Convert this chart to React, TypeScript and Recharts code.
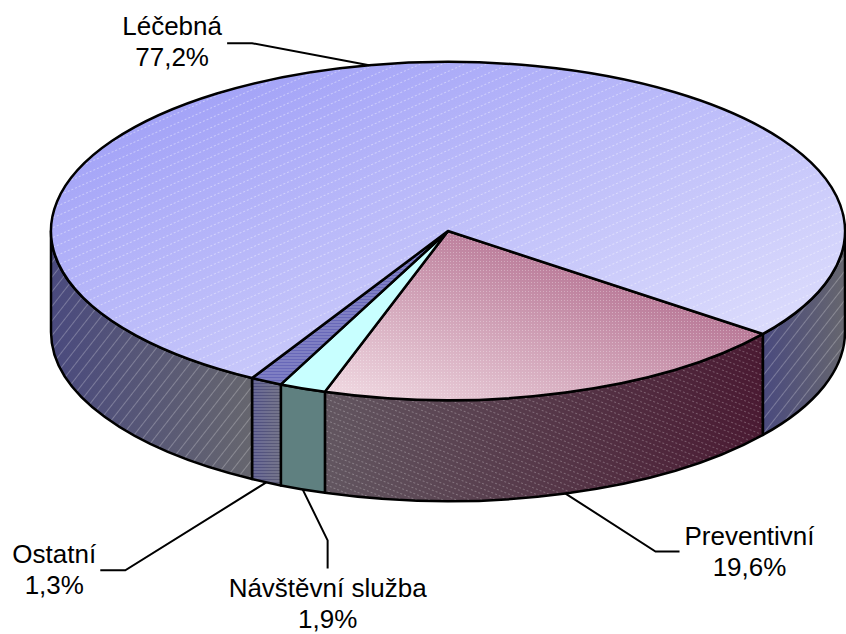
import { PieChart, Pie } from 'recharts';

const CATEGORIES = ['Preventivní', 'Návštěvní služba', 'Ostatní', 'Léčebná'];
const SHARES = [19.6, 1.9, 1.3, 77.2];

const rows = CATEGORIES.map((name, i) => ({ name, share: SHARES[i] }));

const WIDTH = 846;
const HEIGHT = 634;
const TILT = 0.426; // ry / rx of the tilted disc
const DEPTH = 101;
const FONT = '"Liberation Sans", Arial, sans-serif';
const LINE_GAP = 31;

const TOP_FILL = ['url(#prevTop)', '#c8ffff', '#6868b8', 'url(#lecTop)'];
const TOP_HATCH = ['url(#dots)', null, 'url(#hLines)', 'url(#hatchTop)'];
const WALL_FILL = ['url(#prevWall)', '#5f8080', 'url(#ostWall)', 'url(#lecWall)'];
const WALL_HATCH = ['url(#hatchPrevWall)', null, 'url(#hLines)', 'url(#hatchWall)'];

// callout placement: elbow offset from anchor, end offset from elbow, text centre/baseline from end
const LABEL_LAYOUT = [
    { elbow: [90, 58], end: [24, 0], text: [70, -7] },
    { elbow: [25, 51], end: [0, 28], text: [0, 29] },
    { elbow: [-141, 88], end: [-25, 0], text: [-46, -7] },
    { elbow: [-117, -22], end: [-25, 0], text: [-55, -8] }
];

const rad = (d: number) => (d * Math.PI) / 180;

// screen angle (clockwise, y down) -> point on ellipse
const onEllipse = (cx: number, cy: number, r: number, t: number, dy = 0) => [
    cx + r * Math.cos(rad(t)),
    cy + r * TILT * Math.sin(rad(t)) + dy
];

const wallPath = (cx: number, cy: number, r: number, a: number, b: number) => {
    const ry = r * TILT;
    const [x1, y1] = onEllipse(cx, cy, r, a);
    const [x2, y2] = onEllipse(cx, cy, r, b);
    return `M${x1},${y1} A${r},${ry} 0 0 1 ${x2},${y2} L${x2},${y2 + DEPTH} A${r},${ry} 0 0 0 ${x1},${y1 + DEPTH} Z`;
};

const renderWall = (p: any) => {
    const { cx, cy, outerRadius, startAngle, endAngle, index } = p;
    const s1 = -startAngle;
    const s2 = -endAngle;
    const parts: number[][] = [];
    for (let n = -1; n <= 2; n++) {
        const a = Math.max(s1, n * 360);
        const b = Math.min(s2, n * 360 + 180);
        if (b - a > 0.01) parts.push([a, b]);
    }
    return (
        <g key={`wall-${index}`}>
            {parts.map(([a, b], k) => {
                const d = wallPath(cx, cy, outerRadius, a, b);
                return (
                    <g key={k}>
                        <path d={d} fill={WALL_FILL[index]} />
                        {WALL_HATCH[index] && <path d={d} fill={WALL_HATCH[index] as string} />}
                        <path d={d} fill="none" stroke="#000" strokeWidth={2.5} strokeLinejoin="round" />
                    </g>
                );
            })}
        </g>
    );
};

const renderTop = (p: any) => {
    const { cx, cy, outerRadius, startAngle, endAngle, index } = p;
    const s1 = -startAngle;
    const s2 = -endAngle;
    const [x1, y1] = onEllipse(cx, cy, outerRadius, s1);
    const [x2, y2] = onEllipse(cx, cy, outerRadius, s2);
    const large = s2 - s1 > 180 ? 1 : 0;
    const d = `M${cx},${cy} L${x1},${y1} A${outerRadius},${outerRadius * TILT} 0 ${large} 1 ${x2},${y2} Z`;
    return (
        <g key={`top-${index}`}>
            <path d={d} fill={TOP_FILL[index]} />
            {TOP_HATCH[index] && <path d={d} fill={TOP_HATCH[index] as string} />}
            <path d={d} fill="none" stroke="#000" strokeWidth={2.5} strokeLinejoin="round" />
        </g>
    );
};

const renderCallout = (p: any) => {
    const { cx, cy, outerRadius, startAngle, endAngle, index, name, value } = p;
    const mid = -(startAngle + endAngle) / 2;
    const m = ((mid % 360) + 360) % 360;
    const front = m > 0 && m < 180;
    const [ax, ay] = onEllipse(cx, cy, outerRadius, mid, front ? DEPTH : 0);
    const lay = LABEL_LAYOUT[index];
    const ex = ax + lay.elbow[0];
    const ey = ay + lay.elbow[1];
    const fx = ex + lay.end[0];
    const fy = ey + lay.end[1];
    const tx = fx + lay.text[0];
    const ty = fy + lay.text[1];
    const pct = `${Number(value).toFixed(1).replace('.', ',')}%`;
    return (
        <g key={`callout-${index}`}>
            <polyline points={`${ax},${ay} ${ex},${ey} ${fx},${fy}`} fill="none" stroke="#000" strokeWidth={2} />
            <text x={tx} y={ty} textAnchor="middle" fontFamily={FONT} fontSize={26} fill="#000">
                {name}
            </text>
            <text x={tx} y={ty + LINE_GAP} textAnchor="middle" fontFamily={FONT} fontSize={26} fill="#000">
                {pct}
            </text>
        </g>
    );
};

const pieProps = {
    data: rows,
    dataKey: 'share',
    nameKey: 'name',
    cx: 448,
    cy: 231,
    outerRadius: 397,
    startAngle: -37.5,
    endAngle: -397.5,
    fill: 'none',
    stroke: 'none',
    labelLine: false,
    isAnimationActive: false
};

export default function App() {
    return (
        <div style={{ position: 'absolute', left: 0, top: 0, width: WIDTH, height: HEIGHT, background: '#fff' }}>
            <PieChart width={WIDTH} height={HEIGHT} margin={{ top: 0, right: 0, bottom: 0, left: 0 }}>
                <defs>
                    <linearGradient id="lecTop" x1="0" y1="0" x2="1" y2="1">
                        <stop offset="0%" stopColor="#9898f6" />
                        <stop offset="100%" stopColor="#e4e4fd" />
                    </linearGradient>
                    <linearGradient id="prevTop" x1="1" y1="0" x2="0" y2="1">
                        <stop offset="0%" stopColor="#a04e76" />
                        <stop offset="100%" stopColor="#f2dce4" />
                    </linearGradient>
                    <linearGradient id="lecWall" x1="0" y1="0" x2="1" y2="0">
                        <stop offset="0%" stopColor="#4a4a7e" />
                        <stop offset="100%" stopColor="#66666e" />
                    </linearGradient>
                    <linearGradient id="prevWall" x1="0" y1="0" x2="1" y2="0">
                        <stop offset="0%" stopColor="#625660" />
                        <stop offset="100%" stopColor="#4a1a32" />
                    </linearGradient>
                    <linearGradient id="ostWall" x1="0" y1="0" x2="1" y2="0">
                        <stop offset="0%" stopColor="#4e4e84" />
                        <stop offset="100%" stopColor="#5c5c74" />
                    </linearGradient>
                    <pattern id="hatchTop" patternUnits="userSpaceOnUse" width="12" height="9" patternTransform="rotate(-24)">
                        <line x1="0" y1="4.5" x2="12" y2="4.5" stroke="#fff" strokeOpacity="0.4" strokeWidth="1" strokeDasharray="2 2" />
                    </pattern>
                    <pattern id="hatchWall" patternUnits="userSpaceOnUse" width="12" height="9" patternTransform="rotate(-52)">
                        <line x1="0" y1="4.5" x2="12" y2="4.5" stroke="#fff" strokeOpacity="0.25" strokeWidth="1" />
                    </pattern>
                    <pattern id="hatchPrevWall" patternUnits="userSpaceOnUse" width="8" height="5" patternTransform="rotate(22)">
                        <line x1="0" y1="2.5" x2="8" y2="2.5" stroke="#fff" strokeOpacity="0.25" strokeWidth="1" strokeDasharray="2 2" />
                    </pattern>
                    <pattern id="dots" patternUnits="userSpaceOnUse" width="3" height="3">
                        <rect x="0" y="0" width="1" height="1" fill="#fff" fillOpacity="0.3" />
                    </pattern>
                    <pattern id="hLines" patternUnits="userSpaceOnUse" width="4" height="3">
                        <line x1="0" y1="1" x2="4" y2="1" stroke="#fff" strokeOpacity="0.3" strokeWidth="1" />
                    </pattern>
                </defs>
                <Pie {...pieProps} label={renderWall} />
                <Pie {...pieProps} label={renderTop} />
                <Pie {...pieProps} label={renderCallout} />
            </PieChart>
        </div>
    );
}
